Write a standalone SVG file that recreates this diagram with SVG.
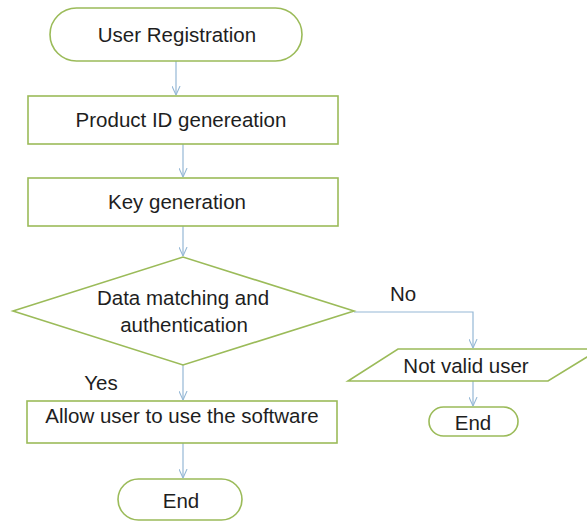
<svg xmlns="http://www.w3.org/2000/svg" width="587" height="521" viewBox="0 0 587 521">
<style>
.shape{fill:#ffffff;stroke:#9bbb59;stroke-width:1.6}
.conn{fill:none;stroke:#95b8d6;stroke-width:1.2}
text{font-family:"Liberation Sans",Arial,sans-serif;font-size:20.5px;fill:#1e1e1e;text-anchor:middle}
</style>
<defs>
<marker id="arr" viewBox="0 0 10 10" refX="10" refY="5" markerWidth="9" markerHeight="9" markerUnits="userSpaceOnUse" orient="auto">
<path d="M0,0.5 L10,5 L0,9.5" fill="none" stroke="#95b8d6" stroke-width="1.2"/>
</marker>
</defs>
<rect width="587" height="521" fill="#ffffff"/>
<g id="connectors">
<line class="conn" x1="176" y1="61" x2="176" y2="95" marker-end="url(#arr)"/>
<line class="conn" x1="183" y1="144" x2="183" y2="177" marker-end="url(#arr)"/>
<line class="conn" x1="183" y1="226" x2="183" y2="256" marker-end="url(#arr)"/>
<line class="conn" x1="183" y1="365" x2="183" y2="400" marker-end="url(#arr)"/>
<line class="conn" x1="183" y1="443" x2="183" y2="478" marker-end="url(#arr)"/>
<polyline class="conn" points="354,312 473,312 473,348" marker-end="url(#arr)"/>
<line class="conn" x1="473" y1="381" x2="473" y2="406" marker-end="url(#arr)"/>
<text x="403" y="301">No</text>
<text x="101" y="390">Yes</text>
</g>
<g id="start">
<rect class="shape" x="50" y="8" width="252" height="53" rx="26.5" ry="26.5"/>
<text x="177" y="42">User Registration</text>
</g>
<g id="product-id">
<rect class="shape" x="28" y="96" width="310" height="48"/>
<text x="181" y="127">Product ID genereation</text>
</g>
<g id="key-gen">
<rect class="shape" x="28" y="178" width="310" height="48"/>
<text x="177" y="209">Key generation</text>
</g>
<g id="decision">
<polygon class="shape" points="13,311 183,257 354,311 183,365"/>
<text x="183" y="305">Data matching and</text>
<text x="184" y="332">authentication</text>
</g>
<g id="allow">
<rect class="shape" x="27" y="401" width="310" height="42"/>
<text x="182" y="423">Allow user to use the software</text>
</g>
<g id="end-main">
<rect class="shape" x="118" y="479" width="124" height="41" rx="20.5" ry="20.5"/>
<text x="181" y="508">End</text>
</g>
<g id="not-valid">
<polygon class="shape" points="398,349 600,349 548,381 348,381"/>
<text x="466" y="373">Not valid user</text>
</g>
<g id="end-invalid">
<rect class="shape" x="429" y="407" width="89" height="29" rx="14.5" ry="14.5"/>
<text x="473" y="430">End</text>
</g>
</svg>
